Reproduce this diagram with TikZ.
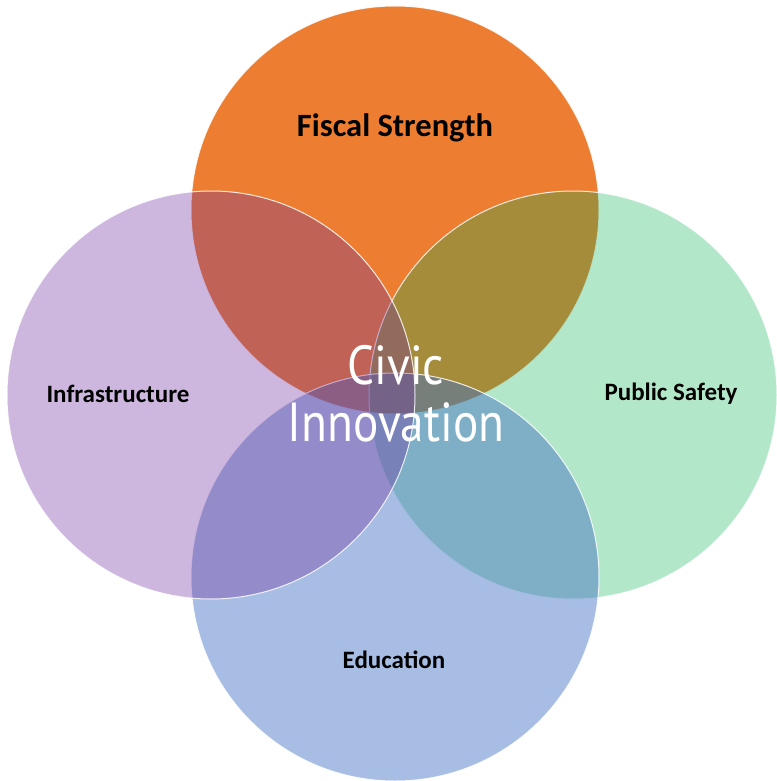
\documentclass[tikz,border=0pt]{standalone}
\usepackage{fontspec}
\setmainfont{Carlito}
\newfontfamily\hubfont{PT Sans}

\definecolor{fiscal}{HTML}{ED7D31}
\definecolor{safety}{HTML}{00B050}
\definecolor{educ}{HTML}{4472C4}
\definecolor{infra}{HTML}{7030A0}

\tikzset{
	venn/.style={draw=white, draw opacity=.85, line width=1pt},
	ringtext/.style={font=\bfseries\fontsize{25}{30}\selectfont, text=black},
	hubtext/.style={font=\hubfont\fontsize{55}{57}\selectfont, text=white, align=center}
}

\begin{document}
\begin{tikzpicture}[x=1pt,y=-1pt]
	\useasboundingbox (0,0) rectangle (776,781);

	% the four rings
	\draw[venn, fill=fiscal] (395,210) circle [radius=204pt];
	\draw[venn, fill=safety, fill opacity=.3] (573,395) circle [radius=204pt];
	\draw[venn, fill=educ, fill opacity=.47] (395,577) circle [radius=204pt];
	\draw[venn, fill=infra, fill opacity=.35] (211,395) circle [radius=204pt];

	\node[ringtext, font=\bfseries\fontsize{32.5}{38}\selectfont] (fiscaltxt) at (395,128) {Fiscal Strength};
	\node[ringtext] (infratxt) at (118,394) {Infrastructure};
	\node[ringtext] (safetytxt) at (671,394) {Public Safety};
	\node[ringtext] (eductxt) at (394,660) {Education};

	\node[hubtext] (hub) at (396,394) {\scalebox{.86}[1]{Civic}\\\scalebox{.86}[1]{Innovation}};
\end{tikzpicture}
\end{document}
